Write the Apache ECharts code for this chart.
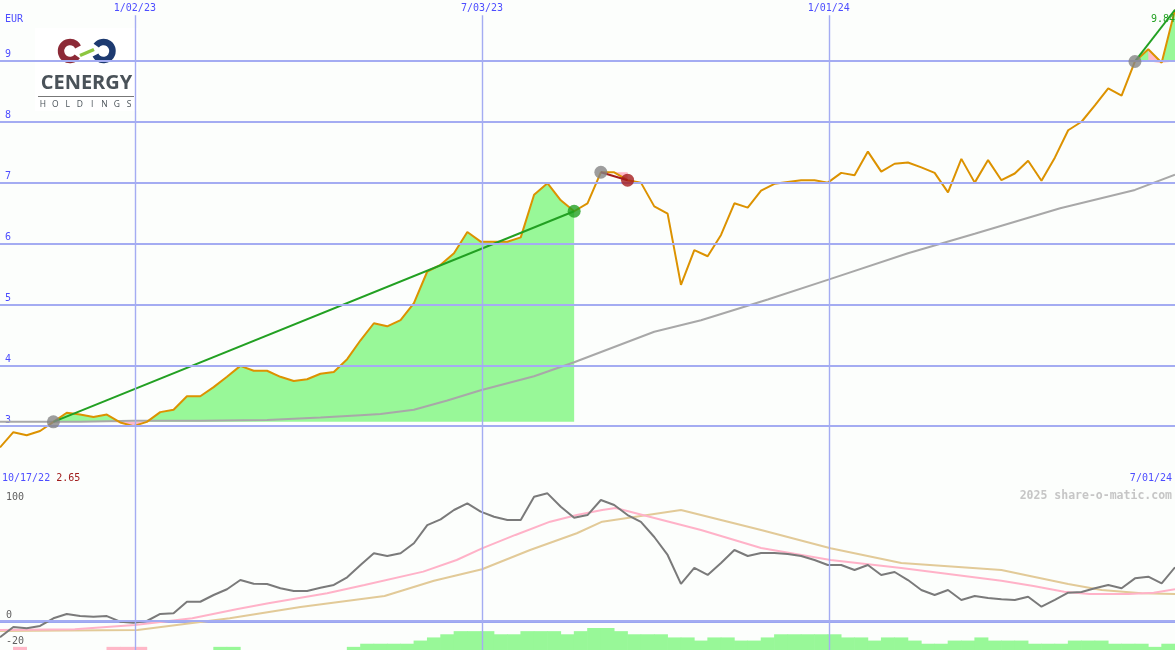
<!DOCTYPE html>
<html><head><meta charset="utf-8">
<script src="https://cdn.jsdelivr.net/npm/echarts@6/dist/echarts.min.js"></script>
<style>html,body{margin:0;padding:0;background:#fcfefc}#c{width:1175px;height:650px}</style>
</head><body><div id="c"></div>
<script>
// ---------- DATA ----------
const startDate = '10/17/22';
const endDate = '7/01/24';
const currency = 'EUR';
const dateTickWeeks = [10.1, 36.1, 62.07];
const dateTickLabels = ['1/02/23', '7/03/23', '1/01/24'];
const priceTicks = [3, 4, 5, 6, 7, 8, 9];
const oscTicksLow = [-20, 0];
const oscTicksHigh = [100];

// weekly closing price, week 0 .. 88
const price = [2.65, 2.90, 2.85, 2.92, 3.07, 3.22, 3.19, 3.15, 3.19, 3.06,
  3.00, 3.07, 3.23, 3.27, 3.49, 3.49, 3.64, 3.81, 3.99, 3.91,
  3.91, 3.81, 3.74, 3.77, 3.86, 3.89, 4.10, 4.41, 4.69, 4.64,
  4.74, 5.02, 5.54, 5.65, 5.84, 6.19, 6.03, 6.03, 6.03, 6.10,
  6.80, 6.99, 6.71, 6.53, 6.66, 7.17, 7.17, 7.04, 7.00, 6.61,
  6.49, 5.32, 5.89, 5.79, 6.14, 6.66, 6.59, 6.87, 6.98, 7.01,
  7.04, 7.04, 7.00, 7.16, 7.12, 7.51, 7.18, 7.31, 7.33, 7.25,
  7.16, 6.84, 7.39, 7.00, 7.37, 7.04, 7.15, 7.36, 7.03, 7.41,
  7.86, 8.00, 8.27, 8.55, 8.43, 8.99, 9.19, 8.97, 9.84];

// long moving average (grey, price panel)
const maWeeks  = [0, 6, 10, 15, 20, 24, 27, 28.5, 31, 33.5, 36, 40, 43, 46, 49, 52.5, 57.5, 62.1, 68, 73, 79.4, 85, 88];
const maValues = [3.07, 3.07, 3.09, 3.09, 3.10, 3.14, 3.18, 3.20, 3.27, 3.42, 3.59, 3.82, 4.05, 4.30, 4.55, 4.74, 5.08, 5.41, 5.84, 6.16, 6.58, 6.88, 7.13];

// trades: entry week, exit week, outcome
const tradeEntry = [4, 45, 85];
const tradeExit  = [43, 47, 88];
const tradeOutcome = ['win', 'loss', 'open'];
const pinkFillSegments = [[86, 87]];

// oscillator (grey, lower panel), week 0 .. 88
const osc = [-12.5, -4.6, -5.6, -3.8, 2.1, 5.4, 3.8, 3.3, 3.8, -0.5,
  -1.3, 0, 5.4, 5.9, 14.8, 14.8, 20, 24.4, 31.5, 28.7,
  28.5, 25.2, 23.1, 23.1, 25.6, 27.7, 33.6, 43.1, 52.1, 50,
  52.1, 59.8, 73.8, 78.2, 85.4, 90.5, 84.1, 80.2, 77.7, 77.7,
  95.6, 98.2, 87.9, 79.5, 81.5, 93.1, 89.2, 81.5, 76.2, 64.6,
  50.8, 28.5, 40.8, 35.4, 44.6, 54.6, 50, 52.3, 52.3, 51.5,
  50, 46.9, 43.1, 43.1, 39.2, 43.1, 35.4, 37.7, 31.5, 23.8,
  20, 23.8, 16.2, 19.2, 17.7, 16.7, 16.2, 18.7, 11, 16.2,
  21.8, 22.3, 25.2, 27.7, 25.2, 32.8, 34.1, 29, 41.3];

// fast (pink) and slow (tan) averages of the oscillator
const pinkWeeks  = [0, 5.6, 10.1, 14.4, 17.8, 20.1, 24.5, 27.3, 31.7, 34.2, 36.1, 38.6, 41.2, 43.2, 45.1, 46.1, 52.5, 57, 62.2, 67.5, 75, 77.4, 79.7, 81.6, 84.5, 86.4, 88];
const pinkValues = [-6.9, -6.4, -3.1, 2.1, 9.2, 13.6, 21.3, 27.7, 38, 46.9, 55.9, 66.2, 76.4, 81.5, 85.4, 86.9, 70, 56.2, 46.9, 40.8, 31, 26.9, 22.5, 20.8, 20.8, 21.8, 24.4];
const tanWeeks  = [0, 10.3, 17.2, 22.5, 28.8, 32.5, 36.1, 39.7, 43.2, 45.1, 51, 57, 62.2, 67.5, 75, 77.4, 80, 82.5, 85.5, 88];
const tanValues = [-7.7, -6.9, 2.1, 10.8, 19.2, 31, 39.8, 54.6, 67.5, 76.4, 85.4, 70, 56, 44.6, 39.2, 34.1, 28.5, 23.8, 21.3, 20.8];

// weekly histogram (positive = green, negative = pink), weeks 0 .. 87
const hist = [0, -1, 0, 0, 0, 0, 0, 0, -1, -1,
  -1, 0, 0, 0, 0, 0, 1, 1, 0, 0,
  0, 0, 0, 0, 0, 0, 1, 2, 2, 2,
  2, 3, 4, 5, 6, 6, 6, 5, 5, 6,
  6, 6, 5, 6, 7, 7, 6, 5, 5, 5,
  4, 4, 3, 4, 4, 3, 3, 4, 5, 5,
  5, 5, 5, 4, 4, 3, 4, 4, 3, 2,
  2, 3, 3, 4, 3, 3, 3, 2, 2, 2,
  3, 3, 3, 2, 2, 2, 1, 2];

// ---------- CHART ----------
const MONO = '"DejaVu Sans Mono", "Liberation Mono", monospace';
const BLUE = '#4d4dff';
const GRID = '#a4acf2';
const GREEN_FILL = '#98f898';
const PINK_FILL = '#ffb8c8';
const lastWeek = price.length - 1;

const pair = (xs, ys) => xs.map((x, i) => [x, ys[i]]);
const series = [];

// grid lines (top panel)
series.push({
  type: 'line', xAxisIndex: 0, yAxisIndex: 0, data: [], z: 0, silent: true,
  markLine: {
    silent: true, symbol: 'none', label: { show: false },
    lineStyle: { color: GRID, type: 'solid', width: 2 },
    data: priceTicks.map(v => ({ yAxis: v })).concat(
      dateTickWeeks.map(w => [{ coord: [w, 9.75], lineStyle: { width: 1.4 } }, { coord: [w, 2] }]))
  }
});
// grid lines (lower panel)
series.push({
  type: 'line', xAxisIndex: 1, yAxisIndex: 1, data: [], z: 0, silent: true,
  markLine: {
    silent: true, symbol: 'none', label: { show: false },
    lineStyle: { color: GRID, type: 'solid', width: 1.4 },
    data: dateTickWeeks.map(w => ({ xAxis: w })).concat([{ yAxis: 0, lineStyle: { width: 2 } }])
  }
});

// trade fills
tradeEntry.forEach((e, t) => {
  const x = tradeExit[t];
  const base = price[e];
  const up = [], down = [];
  for (let k = e; k <= x; k++) {
    up.push([k, Math.max(price[k], base)]);
    down.push([k, Math.min(price[k], base)]);
  }
  [[up, GREEN_FILL], [down, PINK_FILL]].forEach(([d, c]) => {
    series.push({
      type: 'line', xAxisIndex: 0, yAxisIndex: 0, data: d, z: 1, silent: true,
      showSymbol: false, symbol: 'none', lineStyle: { width: 0, opacity: 0 },
      areaStyle: { color: c, opacity: 1, origin: base }
    });
  });
  pinkFillSegments.forEach(([a, b]) => {
    if (a >= e && b <= x) {
      const d = [];
      for (let k = a; k <= b; k++) d.push([k, price[k]]);
      series.push({
        type: 'line', xAxisIndex: 0, yAxisIndex: 0, data: d, z: 1, silent: true,
        showSymbol: false, symbol: 'none', lineStyle: { width: 0, opacity: 0 },
        areaStyle: { color: PINK_FILL, opacity: 1, origin: base }
      });
    }
  });
});

// long moving average
series.push({
  type: 'line', xAxisIndex: 0, yAxisIndex: 0, data: pair(maWeeks, maValues), z: 2,
  showSymbol: false, symbol: 'none', lineStyle: { color: '#a8a8a8', width: 2 }
});
// price
series.push({
  type: 'line', xAxisIndex: 0, yAxisIndex: 0, data: price.map((v, i) => [i, v]), z: 3,
  showSymbol: false, symbol: 'none', lineStyle: { color: '#dc9200', width: 2 }
});
// trade lines and dots
tradeEntry.forEach((e, t) => {
  const x = tradeExit[t];
  const col = tradeOutcome[t] === 'loss' ? '#a51c1c' : '#22a022';
  series.push({
    type: 'line', xAxisIndex: 0, yAxisIndex: 0, z: 4, showSymbol: false, symbol: 'none',
    data: [[e, price[e]], [x, price[x]]], lineStyle: { color: col, width: 2 }
  });
  const dots = [{ value: [e, price[e]], itemStyle: { color: '#858585' } }];
  if (tradeOutcome[t] !== 'open') dots.push({ value: [x, price[x]], itemStyle: { color: col } });
  series.push({
    type: 'scatter', xAxisIndex: 0, yAxisIndex: 0, z: 5, symbolSize: 13, data: dots, silent: true
  });
});

// lower panel lines
series.push({
  type: 'line', xAxisIndex: 1, yAxisIndex: 1, data: pair(tanWeeks, tanValues), z: 2,
  showSymbol: false, symbol: 'none', lineStyle: { color: '#e2ca98', width: 2 }
});
series.push({
  type: 'line', xAxisIndex: 1, yAxisIndex: 1, data: pair(pinkWeeks, pinkValues), z: 2,
  showSymbol: false, symbol: 'none', lineStyle: { color: '#ffb2c8', width: 2 }
});
series.push({
  type: 'line', xAxisIndex: 1, yAxisIndex: 1, data: osc.map((v, i) => [i, v]), z: 3,
  showSymbol: false, symbol: 'none', lineStyle: { color: '#7a7a7a', width: 2 }
});
// histogram
series.push({
  type: 'bar', xAxisIndex: 2, yAxisIndex: 3, barWidth: 14, z: 1, silent: true,
  itemStyle: { color: GREEN_FILL },
  data: hist.map((v, i) => [i + 0.5, v > 0 ? v : 0])
});
series.push({
  type: 'bar', xAxisIndex: 2, yAxisIndex: 3, barWidth: 14, z: 1, silent: true, barGap: '-100%',
  itemStyle: { color: PINK_FILL },
  data: hist.map((v, i) => [i + 0.5, v < 0 ? -v : 0])
});

// logo
const logo = [
  { type: 'rect', shape: { x: 35, y: 28, width: 103, height: 83 }, style: { fill: '#ffffff' } },
  { type: 'arc', shape: { cx: 70, cy: 51, r: 9, startAngle: 0.2 * Math.PI, endAngle: 1.85 * Math.PI, clockwise: true },
    style: { stroke: '#8c2a37', lineWidth: 6.5, fill: null } },
  { type: 'arc', shape: { cx: 103.5, cy: 51, r: 9, startAngle: 1.2 * Math.PI, endAngle: 2.85 * Math.PI, clockwise: true },
    style: { stroke: '#1d3a70', lineWidth: 6.5, fill: null } },
  { type: 'line', shape: { x1: 80, y1: 55.5, x2: 94, y2: 49.5 }, style: { stroke: '#8dc63f', lineWidth: 3.5 } },
  { type: 'text', x: 86.5, y: 83, style: { text: 'CENERGY', fill: '#4a5259', font: 'bold 20px "Open Sans"', align: 'center', verticalAlign: 'middle' } },
  { type: 'line', shape: { x1: 38, y1: 96.5, x2: 134, y2: 96.5 }, style: { stroke: '#777', lineWidth: 1 } }
];
'HOLDINGS'.split('').forEach((ch, i) => {
  logo.push({ type: 'text', x: 43 + i * 12.3, y: 104.5,
    style: { text: ch, fill: '#4a5259', font: '8.5px "Open Sans"', align: 'center', verticalAlign: 'middle' } });
});

const option = {
  backgroundColor: '#fcfefc',
  animation: false,
  grid: [
    { left: 0, right: 0, top: 0, height: 487 },
    { left: 0, right: 0, top: 487, height: 163 },
    { left: 0, right: 0, top: 628, height: 22 }
  ],
  xAxis: [
    { gridIndex: 0, type: 'value', min: 0, max: 88, position: 'top',
      axisLine: { show: false }, axisTick: { show: false }, splitLine: { show: false },
      axisLabel: { inside: true, margin: 3, customValues: dateTickWeeks, color: BLUE, fontSize: 10, fontFamily: MONO,
        formatter: v => { const i = dateTickWeeks.findIndex(w => Math.abs(w - v) < 0.01); return i >= 0 ? dateTickLabels[i] : ''; } } },
    { gridIndex: 1, type: 'value', min: 0, max: 88, position: 'top',
      axisLine: { show: true, lineStyle: { color: '#7a88ee', width: 2.5 } }, axisTick: { show: false },
      axisLabel: { show: false }, splitLine: { show: false } },
    { gridIndex: 2, type: 'value', min: 0, max: 88, show: false }
  ],
  yAxis: [
    { gridIndex: 0, type: 'value', min: 2, max: 10, position: 'left',
      axisLine: { show: false }, axisTick: { show: false }, splitLine: { show: false },
      axisLabel: { inside: true, margin: 5, customValues: priceTicks, color: BLUE, fontSize: 10, fontFamily: MONO,
        align: 'left', verticalAlign: 'bottom', padding: [0, 0, 1, 0] } },
    { gridIndex: 1, type: 'value', min: -22.31, max: 103.08, position: 'left',
      axisLine: { show: false }, axisTick: { show: false }, splitLine: { show: false },
      axisLabel: { inside: true, margin: 6, customValues: oscTicksLow, color: '#606060', fontSize: 10, fontFamily: MONO,
        align: 'left', verticalAlign: 'bottom', padding: [0, 0, 1, 0] } },
    { gridIndex: 1, type: 'value', min: -22.31, max: 103.08, position: 'left',
      axisLine: { show: false }, axisTick: { show: false }, splitLine: { show: false },
      axisLabel: { inside: true, margin: 6, customValues: oscTicksHigh, color: '#606060', fontSize: 10, fontFamily: MONO,
        align: 'left', verticalAlign: 'top', padding: [1, 0, 0, 0] } },
    { gridIndex: 2, type: 'value', min: 0, max: 7, show: false }
  ],
  title: [
    { text: currency, left: 5, top: 14, padding: 0, textStyle: { color: BLUE, fontSize: 10, fontFamily: MONO, fontWeight: 'normal' } },
    { text: price[lastWeek].toFixed(2), right: 0, top: 14, padding: 0, textStyle: { color: '#22a022', fontSize: 10, fontFamily: MONO, fontWeight: 'normal' } },
    { text: '{d|' + startDate + '} {p|' + price[0].toFixed(2) + '}', left: 2, top: 473, padding: 0,
      textStyle: { fontSize: 10, fontFamily: MONO, fontWeight: 'normal',
        rich: { d: { color: BLUE, fontSize: 10, fontFamily: MONO }, p: { color: '#a01c1c', fontSize: 10, fontFamily: MONO } } } },
    { text: endDate, right: 3, top: 473, padding: 0, textStyle: { color: BLUE, fontSize: 10, fontFamily: MONO, fontWeight: 'normal' } },
    { text: '2025 share-o-matic.com', right: 3, top: 490, padding: 0, textStyle: { color: '#c6c6c6', fontSize: 11.5, fontFamily: MONO, fontWeight: 'bold' } }
  ],
  graphic: logo,
  series: series
};
const chart = echarts.init(document.getElementById('c'));
chart.setOption(option);
</script>
</body></html>
